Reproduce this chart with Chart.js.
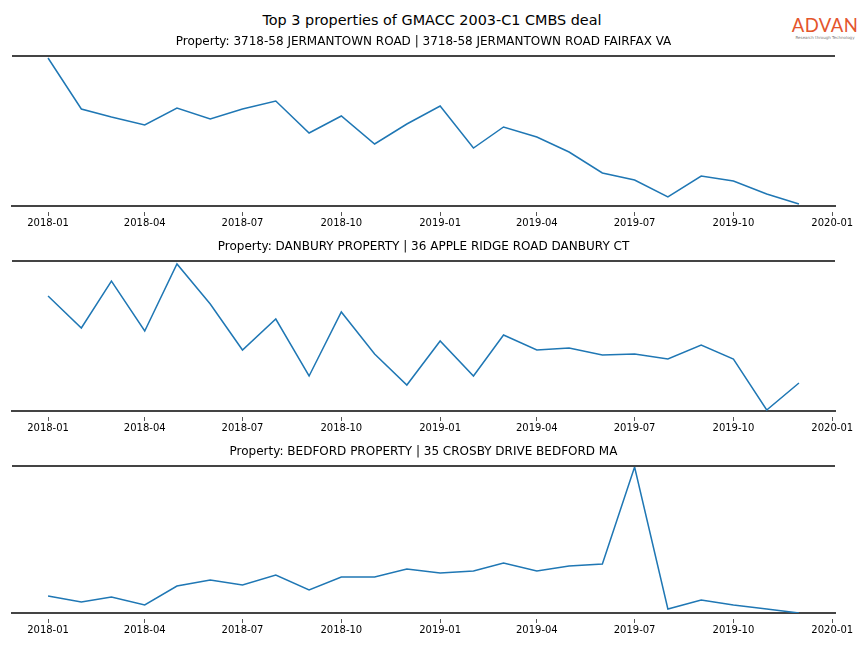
<!DOCTYPE html>
<html lang="en">
<head>
  <meta charset="UTF-8">
  <title>Top 3 properties of GMACC 2003-C1 CMBS deal</title>
  <script src="https://cdn.jsdelivr.net/npm/chart.js"></script>
  <style>
    body {
      margin: 0;
      width: 864px;
      height: 648px;
      position: relative;
      background: #fff;
      font-family: 'DejaVu Sans', sans-serif;
      overflow: hidden;
    }
    h1 {
      position: absolute;
      top: 10px;
      left: 0;
      width: 864px;
      margin: 0;
      text-align: center;
      font-size: 14.4px;
      font-weight: normal;
      line-height: 20px;
      color: #000;
    }
    .logo {
      position: absolute;
      top: 15px;
      left: 791px;
      width: 68px;
      text-align: center;
    }
    .logo .name {
      font-family: Lato, sans-serif;
      font-size: 18.5px;
      line-height: 20px;
      color: #e4552c;
      letter-spacing: 0.4px;
    }
    .logo .tag {
      font-size: 4px;
      line-height: 6px;
      color: #777;
      white-space: nowrap;
    }
    .panel {
      position: absolute;
      left: 0;
      width: 864px;
    }
  </style>
</head>
<body>
  <h1>Top 3 properties of GMACC 2003-C1 CMBS deal</h1>
  <div class="logo"><div class="name">ADVAN</div><div class="tag">Research through Technology</div></div>

  <div class="panel" style="top:30px"><canvas id="chart0" width="864" height="205"></canvas></div>
  <div class="panel" style="top:235px"><canvas id="chart1" width="864" height="205"></canvas></div>
  <div class="panel" style="top:440px"><canvas id="chart2" width="864" height="202"></canvas></div>

  <script>
    const months = [
      '2018-01', '2018-02', '2018-03', '2018-04', '2018-05', '2018-06',
      '2018-07', '2018-08', '2018-09', '2018-10', '2018-11', '2018-12',
      '2019-01', '2019-02', '2019-03', '2019-04', '2019-05', '2019-06',
      '2019-07', '2019-08', '2019-09', '2019-10', '2019-11', '2019-12'
    ];
    const tickLabels = ['2018-01', '2018-04', '2018-07', '2018-10', '2019-01', '2019-04', '2019-07', '2019-10', '2020-01'];

    const titles = [
      'Property: 3718-58 JERMANTOWN ROAD | 3718-58 JERMANTOWN ROAD FAIRFAX VA',
      'Property: DANBURY PROPERTY | 36 APPLE RIDGE ROAD DANBURY CT',
      'Property: BEDFORD PROPERTY | 35 CROSBY DRIVE BEDFORD MA'
    ];

    // relative visit counts (no y scale shown in the original)
    const jermantown = [148, 97, 89, 81, 98, 87, 97, 105, 73, 90, 62, 82, 100, 58, 79, 69, 54, 33, 26, 9, 30, 25, 12, 2];
    const danbury = [115, 83, 130, 80, 147, 107, 61, 92, 35, 99, 57, 26, 70, 35, 76, 61, 63, 56, 57, 52, 66, 52, 1, 28];
    const bedford = [17, 11, 16, 8, 27, 33, 28, 38, 23, 36, 36, 44, 40, 42, 50, 42, 47, 49, 146, 4, 13, 8, 4, 0];

    const seriesList = [jermantown, danbury, bedford];
    const yMax = [150, 150, 147];

    // x positions in days since 2018-01-01
    function dayOf(label) {
      const [y, m] = label.split('-').map(Number);
      return (Date.UTC(y, m - 1, 1) - Date.UTC(2018, 0, 1)) / 86400000;
    }
    const tickDays = tickLabels.map(dayOf);
    const firstDay = dayOf(months[0]);
    const lastDay = dayOf(months[months.length - 1]);
    const margin = (lastDay - firstDay) * 0.048;

    const spineColor = '#444';

    const topSpine = {
      id: 'topSpine',
      afterDraw(chart) {
        const { ctx, chartArea } = chart;
        ctx.save();
        ctx.strokeStyle = spineColor;
        ctx.lineWidth = 2;
        ctx.beginPath();
        ctx.moveTo(chartArea.left, chartArea.top);
        ctx.lineTo(chartArea.right, chartArea.top);
        ctx.stroke();
        ctx.restore();
      }
    };

    seriesList.forEach((series, i) => {
      const ctx = document.getElementById('chart' + i).getContext('2d');
      new Chart(ctx, {
        type: 'line',
        data: {
          datasets: [{
            data: months.map((m, j) => ({ x: dayOf(m), y: series[j] })),
            borderColor: '#1f77b4',
            borderWidth: 1.5,
            pointRadius: 0,
            tension: 0,
            fill: false
          }]
        },
        options: {
          responsive: false,
          animation: false,
          layout: { padding: { left: 12, right: 29, top: 0, bottom: 0 } },
          plugins: {
            legend: { display: false },
            tooltip: { enabled: false },
            title: {
              display: true,
              text: titles[i],
              color: '#000',
              font: { family: 'DejaVu Sans', size: 12, weight: 'normal' },
              padding: { top: 5, bottom: 6.6 }
            }
          },
          scales: {
            x: {
              type: 'linear',
              min: firstDay - margin,
              max: lastDay + margin,
              afterBuildTicks(axis) {
                axis.ticks = tickDays.map(v => ({ value: v }));
              },
              afterFit(axis) {
                axis.height = 29;
              },
              ticks: {
                autoSkip: false,
                maxRotation: 0,
                padding: 1,
                color: '#000',
                font: { family: 'DejaVu Sans', size: 10 },
                callback: (value) => tickLabels[tickDays.indexOf(value)]
              },
              grid: {
                drawOnChartArea: false,
                drawTicks: true,
                tickLength: 10,
                tickColor: '#555',
                tickWidth: 1,
                tickBorderDash: [0, 5, 4, 50]
              },
              border: { display: true, color: spineColor, width: 2 }
            },
            y: {
              display: false,
              min: 0,
              max: yMax[i]
            }
          }
        },
        plugins: [topSpine]
      });
    });
  </script>
</body>
</html>
